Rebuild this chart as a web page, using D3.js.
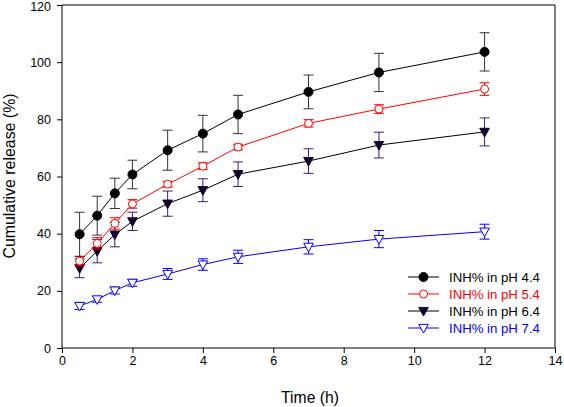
<!DOCTYPE html>
<html><head><meta charset="utf-8">
<script src="https://cdn.jsdelivr.net/npm/d3@7/dist/d3.min.js"></script>
<style>body{margin:0;background:#fff}svg{display:block}text{font-family:"Liberation Sans",Arial,sans-serif}</style>
</head><body><svg id="c" width="564" height="407"></svg>
<script>
const time = [0.5, 1, 1.5, 2, 3, 4, 5, 7, 9, 12];
const pH44 = [39.8, 46.3, 54.1, 60.7, 69.2, 75.0, 81.7, 89.6, 96.4, 103.6];
const pH44Err = [7.7, 6.8, 5.3, 5.0, 7.0, 6.4, 6.7, 5.9, 6.7, 6.7];
const pH54 = [30.4, 36.6, 43.6, 50.4, 57.3, 63.6, 70.3, 78.6, 83.6, 90.6];
const pH54Err = [1.6, 2.0, 2.0, 1.5, 1.0, 1.2, 1.0, 1.3, 1.5, 2.2];
const pH64 = [27.9, 33.9, 39.7, 44.3, 50.5, 55.2, 60.8, 65.4, 71.0, 75.6];
const pH64Err = [3.3, 4.1, 4.3, 3.2, 4.4, 4.0, 4.3, 4.3, 4.5, 4.9];
const pH74 = [14.7, 17.0, 20.1, 22.8, 25.9, 29.2, 31.9, 35.4, 38.1, 40.7];
const pH74Err = [1.2, 1.0, 1.2, 1.2, 1.9, 2.0, 2.3, 2.5, 3.0, 2.6];
const seriesNames = ["INH% in pH 4.4", "INH% in pH 5.4", "INH% in pH 6.4", "INH% in pH 7.4"];
const xTicks = [0, 2, 4, 6, 8, 10, 12, 14];
const yTicks = [0, 20, 40, 60, 80, 100, 120];

const series = [
  {name: seriesNames[0], vals: pH44, err: pH44Err, line: "#000", errc: "#333", shape: "circle", fill: "#000", stroke: "#000"},
  {name: seriesNames[1], vals: pH54, err: pH54Err, line: "#ff0000", errc: "#ff0000", shape: "circle", fill: "#fff", stroke: "#ff0000"},
  {name: seriesNames[2], vals: pH64, err: pH64Err, line: "#000", errc: "#3a2068", shape: "tri", fill: "#10002a", stroke: "#10002a"},
  {name: seriesNames[3], vals: pH74, err: pH74Err, line: "#0000ff", errc: "#0000ff", shape: "tri", fill: "#fff", stroke: "#0000ff"}
];

const svg = d3.select("#c");
const x = d3.scaleLinear().domain([0, 14]).range([62, 555]);
const y = d3.scaleLinear().domain([0, 120]).range([348, 5]);

// frame
svg.append("line").attr("x1", 62).attr("x2", 555).attr("y1", 5).attr("y2", 5).attr("stroke", "#000");
svg.append("line").attr("x1", 555).attr("x2", 555).attr("y1", 5).attr("y2", 348).attr("stroke", "#000");

const xa = svg.append("g").attr("transform", "translate(0,348)")
  .call(d3.axisBottom(x).tickValues(xTicks).tickSize(5).tickPadding(3).tickFormat(d3.format("d")));
const ya = svg.append("g").attr("transform", "translate(62,0)")
  .call(d3.axisLeft(y).tickValues(yTicks).tickSize(5).tickPadding(6).tickFormat(d3.format("d")));
[xa, ya].forEach(a => {
  a.selectAll("path,line").attr("stroke", "#000");
  a.selectAll("text").attr("font-size", 12.5).attr("fill", "#000").attr("font-family", "Liberation Sans, Arial, sans-serif");
});
ya.select(".domain").attr("d", "M0,348V5");
xa.select(".domain").attr("d", "M62,0H555");
ya.selectAll(".tick text").filter(d => d === 120).attr("dy", "0.42em");

svg.append("text").attr("x", 310).attr("y", 403).attr("text-anchor", "middle").attr("font-size", 15.7).text("Time (h)");
svg.append("text").attr("transform", "translate(15,176) rotate(-90)").attr("text-anchor", "middle").attr("font-size", 15.9).text("Cumulative release (%)");

function marker(g, shape, cx, cy, fill, stroke) {
  if (shape === "circle") {
    g.append("circle").attr("cx", cx).attr("cy", cy).attr("r", fill === "#fff" ? 4 : 4.5)
      .attr("fill", fill).attr("stroke", stroke).attr("stroke-width", 1);
  } else {
    const s = 4.8;
    g.append("path").attr("d", `M${cx - s},${cy - s * 0.75}L${cx + s},${cy - s * 0.75}L${cx},${cy + s * 1.05}Z`)
      .attr("fill", fill).attr("stroke", stroke).attr("stroke-width", 1);
  }
}

const lineGen = d3.line().x((d, i) => x(time[i])).y(d => y(d));
series.slice().reverse().forEach(s => {
  const g = svg.append("g");
  s.vals.forEach((v, i) => {
    const cx = x(time[i]);
    const y1 = y(v + s.err[i]), y2 = y(v - s.err[i]);
    g.append("line").attr("x1", cx).attr("x2", cx).attr("y1", y1).attr("y2", y2).attr("stroke", s.errc);
    [y1, y2].forEach(yy => g.append("line").attr("x1", cx - 5).attr("x2", cx + 5).attr("y1", yy).attr("y2", yy).attr("stroke", s.errc));
  });
  g.append("path").datum(s.vals).attr("d", lineGen).attr("fill", "none").attr("stroke", s.line).attr("stroke-width", 1);
  s.vals.forEach((v, i) => marker(g, s.shape, x(time[i]), y(v), s.fill, s.stroke));
});

// legend
const textColors = ["#000", "#ff0000", "#000", "#0000ff"];
series.forEach((s, i) => {
  const ly = 277 + i * 17;
  const g = svg.append("g");
  g.append("line").attr("x1", 408).attr("x2", 439).attr("y1", ly).attr("y2", ly).attr("stroke", s.line);
  marker(g, s.shape, 423.5, ly, s.fill, s.stroke);
  g.append("text").attr("x", 449).attr("y", ly + 4.7).attr("font-size", 13.2).attr("fill", textColors[i]).text(s.name);
});
</script></body></html>
